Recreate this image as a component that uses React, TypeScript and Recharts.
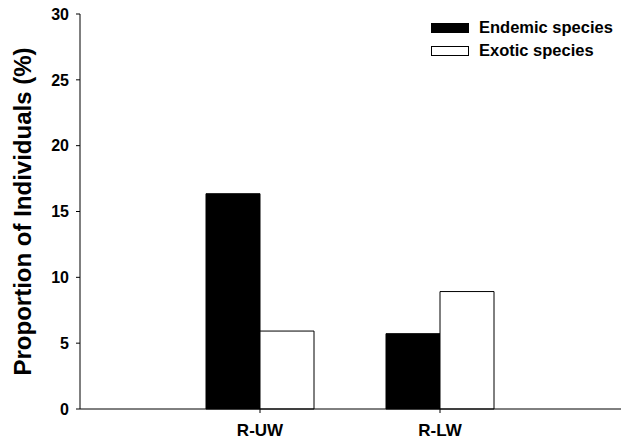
import { BarChart, Bar, XAxis, YAxis, Legend, Label } from "recharts";

const SITES = ["R-UW", "R-LW"];
const ENDEMIC = [16.35, 5.72];
const EXOTIC = [5.92, 8.92];
const Y_TICKS = [0, 5, 10, 15, 20, 25, 30];

const FONT = "'Liberation Sans', Arial, Helvetica, sans-serif";

const data = SITES.map((site, i) => ({
  site,
  endemic: ENDEMIC[i],
  exotic: EXOTIC[i],
}));

const SERIES = [
  { key: "endemic", label: "Endemic species", fill: "#000000" },
  { key: "exotic", label: "Exotic species", fill: "#ffffff" },
];

function LegendBox() {
  return (
    <div style={{ fontFamily: FONT, fontWeight: 700, fontSize: 16.5, color: "#000", whiteSpace: "nowrap", width: 200 }}>
      {SERIES.map((s) => (
        <div key={s.key} style={{ display: "flex", alignItems: "center", height: 23 }}>
          <span
            style={{
              display: "inline-block",
              flexShrink: 0,
              width: 38,
              height: 10,
              boxSizing: "border-box",
              background: s.fill,
              border: "1px solid #000",
              marginRight: 10,
            }}
          />
          <span>{s.label}</span>
        </div>
      ))}
    </div>
  );
}

export default function App() {
  const tickStyle = { fontFamily: FONT, fontWeight: 700, fill: "#000" };
  return (
    <div style={{ position: "absolute", left: 0, top: 0, background: "#fff" }}>
      <BarChart
        width={627}
        height={443}
        data={data}
        margin={{ top: 14, right: 6, left: 0, bottom: 0 }}
        barSize={54}
        barGap={0}
      >
        <XAxis
          dataKey="site"
          height={34}
          padding={{ left: 90, right: 91 }}
          tickSize={4}
          tickMargin={11}
          axisLine={{ stroke: "#000" }}
          tickLine={{ stroke: "#000" }}
          tick={{ ...tickStyle, fontSize: 17 }}
        />
        <XAxis
          xAxisId="top"
          dataKey="site"
          orientation="top"
          height={0}
          tick={false}
          tickLine={false}
          axisLine={{ stroke: "#555" }}
        />
        <YAxis
          domain={[0, 30]}
          ticks={Y_TICKS}
          width={80}
          tickSize={4}
          tickMargin={7}
          axisLine={{ stroke: "#000" }}
          tickLine={{ stroke: "#000" }}
          tick={{ ...tickStyle, fontSize: 16 }}
        >
          <Label
            value="Proportion of Individuals (%)"
            angle={-90}
            position="center"
            dx={-18}
            style={{ fontFamily: FONT, fontWeight: 700, fontSize: 24, fill: "#000" }}
          />
        </YAxis>
        <YAxis
          yAxisId="right"
          orientation="right"
          domain={[0, 30]}
          width={0}
          tick={false}
          tickLine={false}
          axisLine={{ stroke: "#555" }}
        />
        <Legend
          content={() => <LegendBox />}
          wrapperStyle={{ left: 431, top: 16, width: 0, height: 0, overflow: "visible" }}
        />
        {SERIES.map((s) => (
          <Bar
            key={s.key}
            dataKey={s.key}
            name={s.label}
            fill={s.fill}
            stroke="#000"
            strokeWidth={1}
            isAnimationActive={false}
          />
        ))}
      </BarChart>
    </div>
  );
}
